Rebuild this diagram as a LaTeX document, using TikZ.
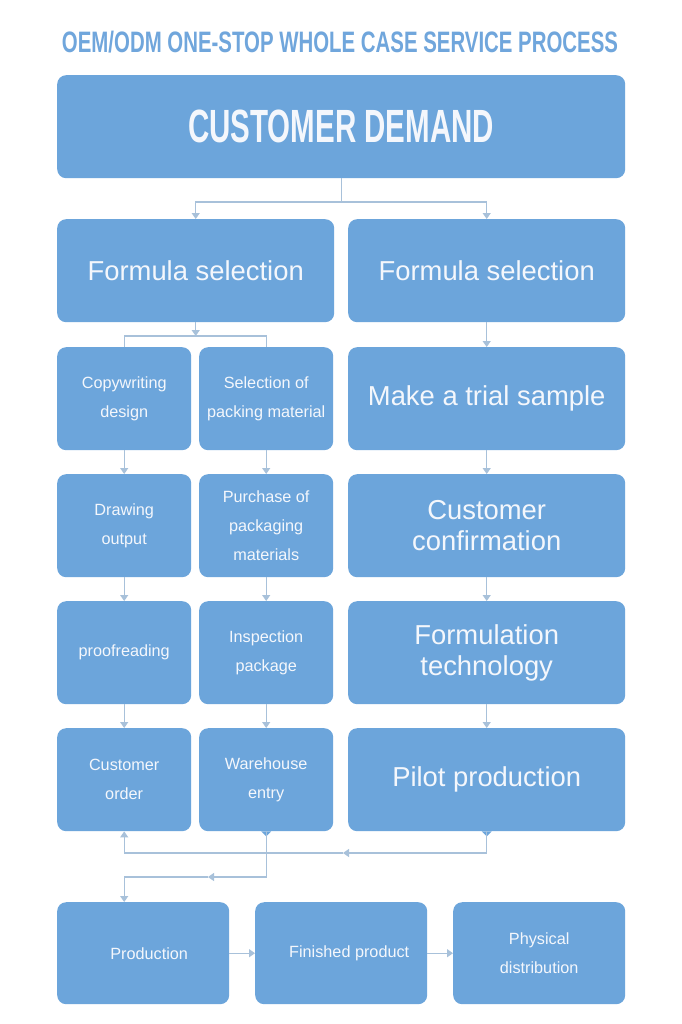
\documentclass[tikz,border=0pt]{standalone}
\usepackage{fontspec}
\setmainfont{Liberation Sans}
\usetikzlibrary{arrows.meta}
\definecolor{boxblue}{RGB}{108,165,219}
\definecolor{linec}{RGB}{168,193,218}
\definecolor{titleblue}{RGB}{112,166,220}
\definecolor{txt}{RGB}{244,247,252}
\tikzset{
  box/.style={fill=boxblue, rounded corners=9bp, anchor=north west, text=txt,
    align=center, inner sep=0pt, minimum height=103bp,
    font=\fontsize{27.5}{31.5}\selectfont},
  smallbox/.style={box, minimum width=134bp, font=\fontsize{16.3}{29}\selectfont},
  bigbox/.style={box, minimum width=277bp},
  botbox/.style={box, minimum width=172bp, minimum height=102bp, font=\fontsize{16.3}{29}\selectfont},
  conn/.style={draw=linec, line width=1.2bp},
  arr/.style={conn, -{Triangle[width=8bp,length=6bp]}},
}
\begin{document}
\begin{tikzpicture}[x=1bp,y=-1bp]
\useasboundingbox (0,0) rectangle (682,1024);
\fill[white] (0,0) rectangle (682,1024);

\node[text=titleblue, inner sep=0pt] (title) at (340,42)
  {\resizebox*{556bp}{22bp}{\bfseries OEM/ODM ONE-STOP WHOLE CASE SERVICE PROCESS}};

\node[box, minimum width=568bp] (demand) at (57,75)
  {\resizebox*{306bp}{33bp}{\bfseries CUSTOMER DEMAND}};

\node[bigbox] (fsL) at (57,219) {Formula selection};
\node[bigbox] (fsR) at (348,219) {Formula selection};

\node[smallbox] (a1) at (57,347) {Copywriting\\design};
\node[smallbox] (a2) at (57,474) {Drawing\\output};
\node[smallbox] (a3) at (57,601) {proofreading};
\node[smallbox] (a4) at (57,728) {Customer\\order};

\node[smallbox] (b1) at (199,347) {Selection of\\packing material};
\node[smallbox] (b2) at (199,474) {Purchase of\\packaging\\materials};
\node[smallbox] (b3) at (199,601) {Inspection\\package};
\node[smallbox] (b4) at (199,728) {Warehouse\\entry};

\node[bigbox] (r1) at (348,347) {Make a trial sample};
\node[bigbox] (r2) at (348,474) {Customer\\confirmation};
\node[bigbox] (r3) at (348,601) {Formulation\\technology};
\node[bigbox] (r4) at (348,728) {Pilot production};

\node[botbox] (p1) at (57,902) {\hspace*{12bp}Production};
\node[botbox] (p2) at (255,902) {\hspace*{16bp}Finished product};
\node[botbox] (p3) at (453,902) {Physical\\distribution};

% connectors
\coordinate (j1) at (demand.south |- 0,202);
\draw[conn] (demand.south) -- (j1);
\draw[arr] (j1) -| (fsL.north);
\draw[arr] (j1) -| (fsR.north);

\coordinate (j2) at (fsL.south |- 0,336);
\draw[arr] (fsL.south) -- (j2);
\draw[conn] (j2) -| (a1.north);
\draw[conn] (j2) -| (b1.north);

\draw[arr] (a1) -- (a2);
\draw[arr] (a2) -- (a3);
\draw[arr] (a3) -- (a4);
\draw[arr] (b1) -- (b2);
\draw[arr] (b2) -- (b3);
\draw[arr] (b3) -- (b4);
\draw[arr] (fsR) -- (r1);
\draw[arr] (r1) -- (r2);
\draw[arr] (r2) -- (r3);
\draw[arr] (r3) -- (r4);

\fill[boxblue] ([xshift=-5bp]b4.south) -- ([xshift=5bp]b4.south) -- ([yshift=-5bp]b4.south) -- cycle;
\fill[boxblue] ([xshift=-5bp]r4.south) -- ([xshift=5bp]r4.south) -- ([yshift=-5bp]r4.south) -- cycle;

\coordinate (m1) at (343,853);
\draw[arr] (r4.south) |- (m1);
\draw[arr] (m1) -| (a4.south);

\coordinate (m2) at (208,877);
\draw[arr] (b4.south) |- (m2);
\draw[arr] (m2) -| (a4.south |- p1.north);

\draw[arr] (p1) -- (p2);
\draw[arr] (p2) -- (p3);
\end{tikzpicture}
\end{document}
